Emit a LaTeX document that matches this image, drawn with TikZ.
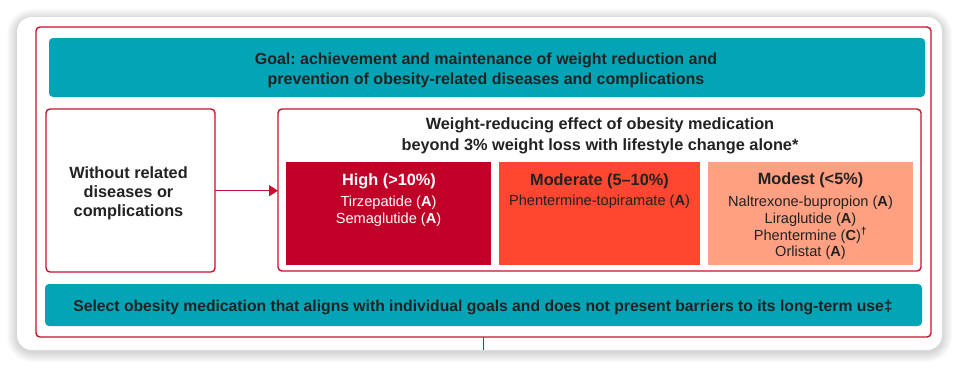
\documentclass[tikz,border=0pt]{standalone}
\usepackage{fontspec}
\setmainfont{Liberation Sans}
\usetikzlibrary{arrows.meta}
\definecolor{tealbox}{HTML}{02A4B5}
\definecolor{framered}{HTML}{C8102E}
\definecolor{highred}{HTML}{C00027}
\definecolor{modred}{HTML}{FF4630}
\definecolor{modestpink}{HTML}{FFA082}
\definecolor{txt}{HTML}{222222}
\frenchspacing
\begin{document}
\begin{tikzpicture}[x=1pt,y=-1pt,
  box/.style={rectangle,inner sep=0pt,outer sep=0pt},
  redbox/.style={box,draw=framered,line width=1.4pt,rounded corners=4pt,fill=white},
  tealrect/.style={box,fill=tealbox,rounded corners=4pt},
  effbox/.style={box,minimum height=103pt},
  boldtxt/.style={font=\fontsize{16}{20}\selectfont\bfseries,text=txt,align=center,inner sep=0pt},
  titletxt/.style={font=\fontsize{16.3}{19}\selectfont\bfseries,align=center,inner sep=0pt},
  drugtxt/.style={font=\fontsize{14.6}{16.8}\selectfont,align=center,inner sep=0pt},
  conn/.style={draw=framered,line width=1.4pt}
]
\useasboundingbox (0,0) rectangle (960,367);
\fill[white] (0,0) rectangle (960,367);
% card shadow
\foreach \i in {1,...,10}{
  \fill[black,opacity=0.016,rounded corners=15pt+\i pt] (17-\i,19-\i) rectangle (942+\i,352+\i);
}
\fill[white,rounded corners=15pt] (17,17) rectangle (942,350);
% outer frame
\node[box,draw=framered,line width=1.4pt,rounded corners=4pt,minimum width=895pt,minimum height=310pt] (frame) at (483.5,182) {};
\coordinate (frameout) at (483.5,350);
% goal
\node[tealrect,minimum width=876pt,minimum height=59pt] (goal) at (487,67.5) {};
\node[boldtxt] (goaltxt) at (486,70.5) {Goal: achievement and maintenance of weight reduction and\\prevention of obesity-related diseases and complications};
% left box
\node[redbox,minimum width=169pt,minimum height=163pt] (left) at (130.5,190.5) {};
\node[boldtxt,font=\fontsize{16.3}{19}\selectfont\bfseries] (lefttxt) at (128.5,193) {Without related\\diseases or\\complications};
% right box
\node[redbox,minimum width=643pt,minimum height=162pt] (right) at (599.5,190) {};
\node[boldtxt,font=\fontsize{16.3}{21}\selectfont\bfseries] (righttxt) at (600,135.5) {Weight-reducing effect of obesity medication\\beyond 3\% weight loss with lifestyle change alone*};
% effect boxes
\node[effbox,fill=highred,minimum width=205pt] (high) at (388.5,213.5) {};
\node[effbox,fill=modred,minimum width=201pt] (moderate) at (599.5,213.5) {};
\node[effbox,fill=modestpink,minimum width=205pt] (modest) at (810.5,213.5) {};
\node[titletxt,text=white] (hightitle) at (389,181) {High (>10\%)};
\node[drugtxt,text=white] (highdrugs) at (388.5,211.5) {Tirzepatide (\textbf{A})\\Semaglutide (\textbf{A})};
\node[titletxt,text=txt] (modtitle) at (599.5,181) {Moderate (5–10\%)};
\node[drugtxt,text=txt] (moddrugs) at (599.5,202) {Phentermine-topiramate (\textbf{A})};
\node[titletxt,text=txt] (modesttitle) at (810.5,180.5) {Modest (<5\%)};
\node[drugtxt,text=txt] (modestdrugs) at (810.5,228) {Naltrexone-bupropion (\textbf{A})\\Liraglutide (\textbf{A})\\Phentermine (\textbf{C})\textsuperscript{\textbf{†}}\\Orlistat (\textbf{A})};
% select
\node[tealrect,minimum width=877pt,minimum height=42pt] (select) at (483.5,305) {};
\node[boldtxt,font=\fontsize{15.7}{19}\selectfont\bfseries] (selecttxt) at (483,307.5) {Select obesity medication that aligns with individual goals and does not present barriers to its long-term use‡};
% connectors
\draw[conn,-{Triangle[length=9pt,width=11pt]}] (left.east |- 0,190.7) -- (right.west |- 0,190.7);
\draw[conn] (frame.south) -- (frameout);
\end{tikzpicture}
\end{document}
